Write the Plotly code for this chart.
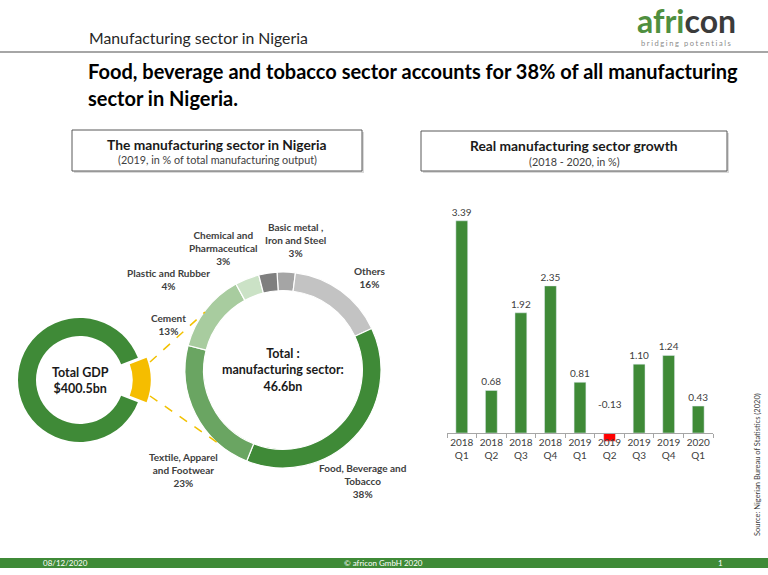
import plotly.graph_objects as go

W, H = 768, 575
FONT = "Lato"
GREEN = "#3f8a37"
GREY_TXT = "#404040"

# data
gdp_total = 400.5
manufacturing_total = 46.6

sectors = ["Basic metal ,<br>Iron and Steel", "Others", "Food, Beverage and<br>Tobacco",
           "Textile, Apparel<br>and Footwear", "Cement", "Plastic and Rubber",
           "Chemical and<br>Pharmaceutical"]
sector_share = [3, 16, 38, 23, 13, 4, 3]
sector_colors = ["#a5a5a5", "#c3c3c3", GREEN, "#6aa562", "#a8cc9f", "#cbe2c6", "#7f7f7f"]

quarters = ["2018<br>Q1", "2018<br>Q2", "2018<br>Q3", "2018<br>Q4", "2019<br>Q1",
            "2019<br>Q2", "2019<br>Q3", "2019<br>Q4", "2020<br>Q1"]
growth = [3.39, 0.68, 1.92, 2.35, 0.81, -0.13, 1.10, 1.24, 0.43]


def px(x):
    return x / W


def py(y):
    return 1 - y / H


fig = go.Figure()

# small donut: total GDP with the manufacturing slice pulled out
gdp_vals = [manufacturing_total, gdp_total - manufacturing_total]
pull = 0.14
r_small = 62
s = r_small * 2 * (1 + pull)
cx, cy = 80, 380
fig.add_trace(go.Pie(
    values=gdp_vals, sort=False, direction="clockwise",
    rotation=90 - 180 * manufacturing_total / gdp_total,
    hole=0.71, pull=[pull, 0], textinfo="none", hoverinfo="none", showlegend=False,
    marker=dict(colors=["#f5bd00", GREEN], line=dict(color="white", width=0)),
    domain=dict(x=[px(cx - s / 2), px(cx + s / 2)], y=[py(cy + s / 2), py(cy - s / 2)]),
))

# big donut: manufacturing breakdown
r_big = 98
cx2, cy2 = 283, 370
fig.add_trace(go.Pie(
    values=sector_share, labels=sectors, sort=False, direction="clockwise", rotation=-3.5,
    hole=0.81, textinfo="none", hoverinfo="label+value", showlegend=False,
    marker=dict(colors=sector_colors, line=dict(color="white", width=1.2)),
    domain=dict(x=[px(cx2 - r_big), px(cx2 + r_big)], y=[py(cy2 + r_big), py(cy2 - r_big)]),
))

# growth bars
fig.add_trace(go.Bar(
    x=quarters, y=growth,
    marker_color=[GREEN if v >= 0 else "#ff0000" for v in growth],
    text=["%.2f" % v if v >= 0 else "" for v in growth],
    textposition="outside", constraintext="none",
    textfont=dict(size=10, color=GREY_TXT, family=FONT),
    cliponaxis=False, showlegend=False, hoverinfo="x+y",
))

zero_px = 433
unit_px = 62.6
y_lo, y_hi = -0.2, 3.9
fig.update_layout(
    width=W, height=H, margin=dict(l=0, r=0, t=0, b=0),
    paper_bgcolor="white", plot_bgcolor="white",
    font=dict(family=FONT, color=GREY_TXT),
    bargap=0.6,
    xaxis=dict(domain=[px(447), px(713)], anchor="free", position=py(zero_px),
               showline=True, linecolor="#a6a6a6", linewidth=1, tickangle=0,
               ticks="outside", tickson="boundaries", ticklen=4, tickcolor="#a6a6a6",
               tickfont=dict(size=10, color=GREY_TXT), showgrid=False),
    yaxis=dict(domain=[py(zero_px - y_lo * unit_px), py(zero_px - y_hi * unit_px)],
               range=[y_lo, y_hi], visible=False, showgrid=False, zeroline=False),
)

shapes = []
ann = []


def text(x, y, t, size, bold=False, color=GREY_TXT, xanchor="center", **kw):
    ann.append(dict(x=px(x), y=py(y), xref="paper", yref="paper", text="<b>%s</b>" % t if bold else t,
                    showarrow=False, xanchor=xanchor, yanchor="middle",
                    font=dict(size=size, color=color, family=FONT), **kw))


# header
text(87, 37, "Manufacturing sector in Nigeria", 15.8, color="#262626", xanchor="left")
text(635, 20, "<span style='color:#4f8f3f'>afri</span><span style='color:#3b3b3b'>con</span>", 32,
     bold=True, xanchor="left")
text(686, 43, "<span style='letter-spacing:1.6px'>bridging potentials</span>", 7.5, color="#8c8c8c")
shapes.append(dict(type="line", xref="paper", yref="paper", x0=0, x1=1, y0=py(52), y1=py(52),
                   line=dict(color="#a6a6a6", width=2)))
text(86, 71, "Food, beverage and tobacco sector accounts for 38% of all manufacturing", 20,
     bold=True, color="black", xanchor="left")
text(86, 98, "sector in Nigeria.", 20, bold=True, color="black", xanchor="left")

# panel boxes
for (x0, x1, y0, y1, t1, t2) in [
    (72, 362, 130, 171, "The manufacturing sector in Nigeria", "(2019, in % of total manufacturing output)"),
    (421, 727, 131, 171, "Real manufacturing sector growth", "(2018 - 2020, in %)"),
]:
    shapes.append(dict(type="rect", xref="paper", yref="paper", x0=px(x0 + 2), x1=px(x1 + 2),
                       y0=py(y1 + 2), y1=py(y0 + 2), line=dict(width=0), fillcolor="#d9d9d9", layer="below"))
    shapes.append(dict(type="rect", xref="paper", yref="paper", x0=px(x0), x1=px(x1),
                       y0=py(y1), y1=py(y0), line=dict(color="#595959", width=1), fillcolor="white",
                       layer="below"))
    text((x0 + x1) / 2, y0 + 14, t1, 13.8, bold=True, color="#1a1a1a")
    text((x0 + x1) / 2, y0 + 30, t2, 10.8, color="#404040")

# donut centre texts
text(cx, cy, "Total GDP<br>$%.1fbn" % gdp_total, 12.5, bold=True, color="#1a1a1a")
text(cx2, cy2, "Total :<br>manufacturing sector:<br>%.1fbn" % manufacturing_total, 12.5, bold=True,
     color="#1a1a1a")

# sector labels
label_pos = [(295, 240), (369, 277), (363, 481), (183, 470), (168, 324), (168, 279), (223, 248)]
for name, share, (lx, ly) in zip(sectors, sector_share, label_pos):
    text(lx, ly, "%s<br>%d%%" % (name, share), 10, bold=True, color=GREY_TXT)

# dashed connector lines
for (x0, y0, x1, y1) in [(150, 362, 205, 312), (150, 396, 218, 443)]:
    shapes.append(dict(type="line", xref="paper", yref="paper", x0=px(x0), y0=py(y0), x1=px(x1), y1=py(y1),
                       line=dict(color="#f2c100", width=1.5, dash="dash")))

# negative bar label sits above the axis
neg_i = [i for i, v in enumerate(growth) if v < 0][0]
ann.append(dict(x=quarters[neg_i], y=0.46, xref="x", yref="y", text="%.2f" % growth[neg_i],
                showarrow=False, font=dict(size=10, color=GREY_TXT, family=FONT)))

# source
text(757, 465, "Source: Nigerian Bureau of Statistics (2020)", 7.5, color="#404040", textangle=-90)

# footer
shapes.append(dict(type="rect", xref="paper", yref="paper", x0=0, x1=1, y0=py(568), y1=py(558),
                   line=dict(width=0), fillcolor=GREEN))
text(65, 563, "08/12/2020", 8, color="white")
text(383, 563, "© africon GmbH 2020", 8, color="white")
text(720, 563, "1", 8, color="white")

fig.update_layout(shapes=shapes, annotations=ann)
# page body has a default 8px margin, drop it so the slide sits at the window origin
fig.write_html("out.html", config={"displayModeBar": False},
               post_script="document.body.style.margin='0px';")
